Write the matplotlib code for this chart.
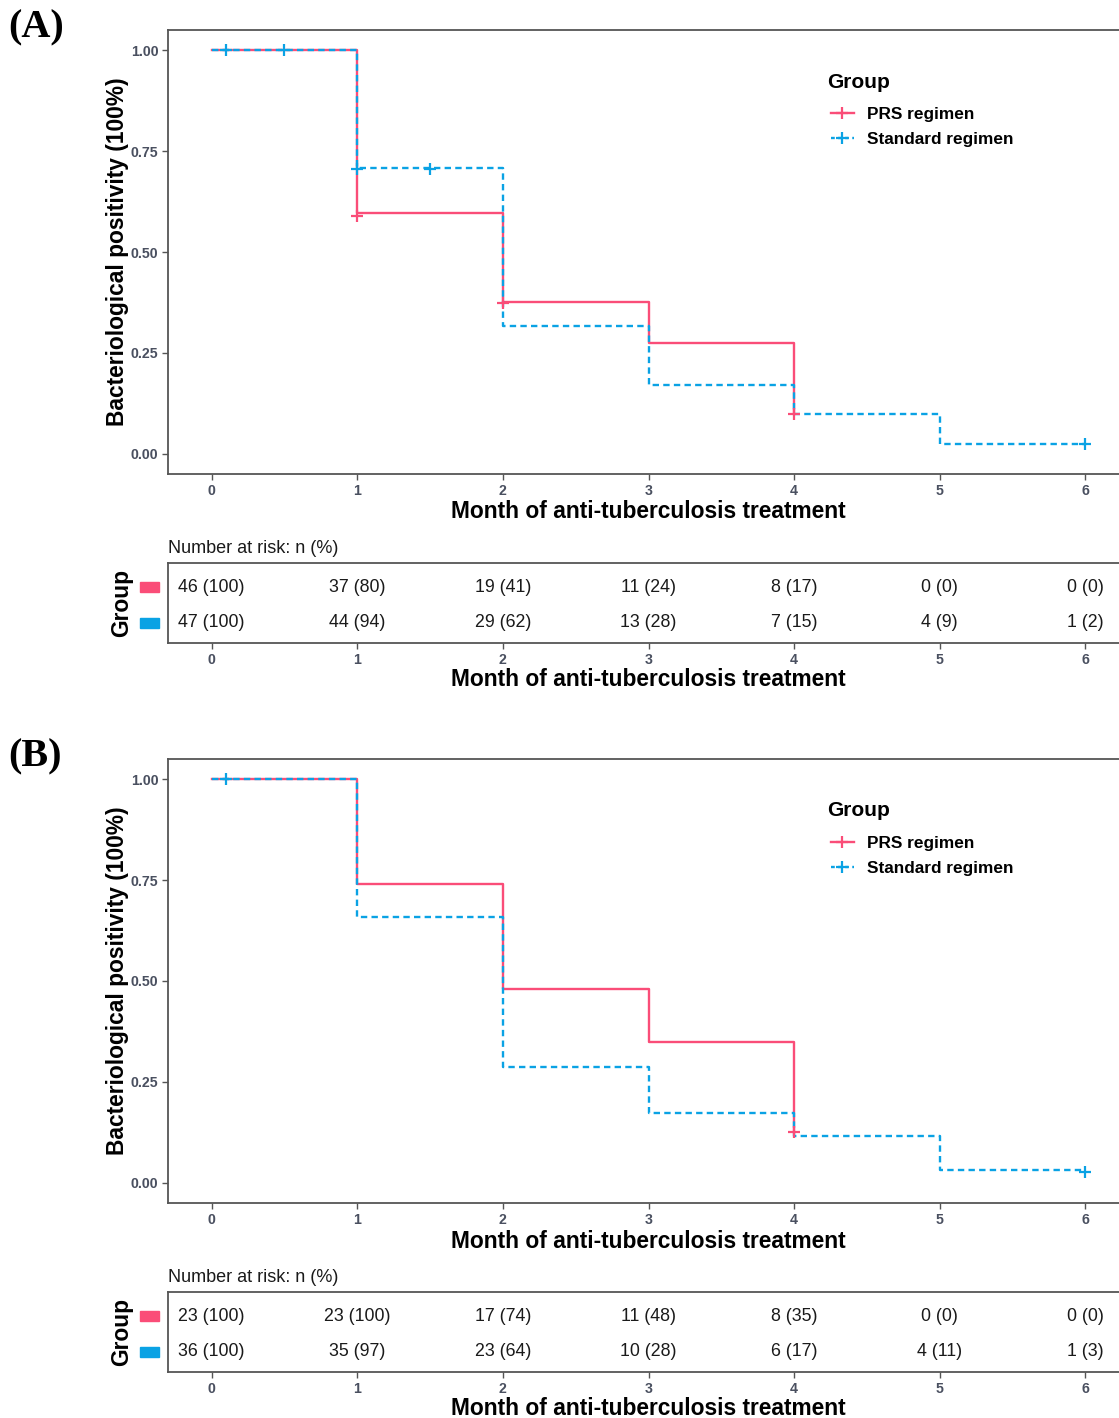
import matplotlib
matplotlib.use("Agg")
import matplotlib.pyplot as plt
from matplotlib.lines import Line2D
from matplotlib.patches import Rectangle
import matplotlib.transforms as mtransforms

# ---- data ----
months = [0, 1, 2, 3, 4, 5, 6]
groups = ["PRS regimen", "Standard regimen"]

# panel A
a_prs_t = [0, 1, 2, 3, 4]
a_prs_s = [1.0, 0.597, 0.377, 0.274, 0.099]
a_std_t = [0, 1, 2, 3, 4, 5, 6]
a_std_s = [1.0, 0.707, 0.317, 0.171, 0.099, 0.025, 0.025]
a_prs_cens_t = [1, 2, 4]
a_prs_cens_s = [0.59, 0.374, 0.099]
a_std_cens_t = [0.1, 0.5, 1, 1.5, 6]
a_std_cens_s = [1.0, 1.0, 0.705, 0.705, 0.025]
a_risk_prs = ["46 (100)", "37 (80)", "19 (41)", "11 (24)", "8 (17)", "0 (0)", "0 (0)"]
a_risk_std = ["47 (100)", "44 (94)", "29 (62)", "13 (28)", "7 (15)", "4 (9)", "1 (2)"]

# panel B
b_prs_t = [0, 1, 2, 3, 4]
b_prs_s = [1.0, 0.741, 0.481, 0.349, 0.126]
b_std_t = [0, 1, 2, 3, 4, 5, 6]
b_std_s = [1.0, 0.659, 0.288, 0.172, 0.116, 0.031, 0.031]
b_prs_cens_t = [4]
b_prs_cens_s = [0.126]
b_std_cens_t = [0.1, 6]
b_std_cens_s = [1.0, 0.028]
b_risk_prs = ["23 (100)", "23 (100)", "17 (74)", "11 (48)", "8 (35)", "0 (0)", "0 (0)"]
b_risk_std = ["36 (100)", "35 (97)", "23 (64)", "10 (28)", "6 (17)", "4 (11)", "1 (3)"]

RED = "#FA4D78"
BLUE = "#0AA2E4"
TICK_C = "#4A5060"
SPINE_C = "#555555"
W, H = 1119, 1418

SANS = ["Liberation Sans", "DejaVu Sans"]
NARROW = ["Liberation Sans Narrow", "Liberation Sans", "DejaVu Sans"]
plt.rcParams["font.family"] = SANS

fig = plt.figure(figsize=(W / 100, H / 100), dpi=100, facecolor="white")


def px_axes(left, top, right, bottom):
    return fig.add_axes([left / W, 1 - bottom / H, (right - left) / W, (bottom - top) / H])


def style_axes(ax):
    for s in ax.spines.values():
        s.set_color(SPINE_C)
        s.set_linewidth(1.3)
    ax.tick_params(direction="out", length=4, width=1.0, color=SPINE_C,
                   labelcolor=TICK_C, pad=3)
    for lab in ax.get_xticklabels() + ax.get_yticklabels():
        lab.set_family(NARROW)
        lab.set_fontweight("bold")
        lab.set_fontsize(10.2)


def draw_panel(y0, letter, prs_t, prs_s, std_t, std_s,
               prs_ct, prs_cs, std_ct, std_cs, risk_prs, risk_std):
    ax = px_axes(168, y0 + 30, 1129, y0 + 474)
    ax.step(prs_t, prs_s, where="post", color=RED, lw=1.7)
    ax.step(std_t, std_s, where="post", color=BLUE, lw=1.7, dashes=(2.7, 1.8))
    ax.plot(prs_ct, prs_cs, ls="none", marker="+", ms=9, mew=1.6, color=RED)
    ax.plot(std_ct, std_cs, ls="none", marker="+", ms=9, mew=1.6, color=BLUE)
    ax.set_xlim(-0.3, 6.3)
    ax.set_ylim(-0.05, 1.05)
    ax.set_xticks(months)
    ax.set_yticks([0, 0.25, 0.5, 0.75, 1.0])
    ax.set_yticklabels(["0.00", "0.25", "0.50", "0.75", "1.00"])
    style_axes(ax)
    ax.set_xlabel("Month of anti-tuberculosis treatment", fontsize=16.4,
                  fontweight="bold", labelpad=2)
    ax.set_ylabel("Bacteriological positivity (100%)", fontsize=16.4,
                  fontweight="bold", labelpad=1)

    handles = [
        Line2D([], [], color=RED, lw=1.7, marker="+", ms=9, mew=1.6),
        Line2D([], [], color=BLUE, lw=1.7, dashes=(1.6, 1.4), marker="+", ms=9, mew=1.6),
    ]
    fig.text(827 / W, 1 - (y0 + 82) / H, "Group", fontsize=15, fontweight="bold",
             ha="left", va="center")
    ax.legend(handles, groups, loc="upper left",
              bbox_to_anchor=(822 / W, 1 - (y0 + 98) / H),
              bbox_transform=fig.transFigure, frameon=False,
              borderpad=0, handlelength=1.35, handletextpad=0.75,
              labelspacing=0.58,
              prop={"weight": "bold", "size": 12.4})

    fig.text(8 / W, 1 - (y0 + 28) / H, letter, family=["Liberation Serif", "DejaVu Serif"],
             fontweight="bold", fontsize=29, va="center", ha="left")

    # risk table
    rt = px_axes(168, y0 + 563, 1129, y0 + 643)
    rt.set_xlim(-0.3, 6.3)
    rt.set_ylim(0.44, 2.67)
    for m, txt in zip(months, risk_prs):
        rt.text(m, 2, txt, ha="center", va="center", fontsize=12.8, color="#1a1a1a")
    for m, txt in zip(months, risk_std):
        rt.text(m, 1, txt, ha="center", va="center", fontsize=12.8, color="#1a1a1a")
    rt.set_xticks(months)
    rt.set_yticks([2, 1])
    rt.set_yticklabels(["", ""])
    style_axes(rt)
    rt.tick_params(axis="y", length=0)
    trans = mtransforms.blended_transform_factory(rt.transAxes, rt.transData)
    for yv, col in [(2, RED), (1, BLUE)]:
        rt.add_patch(Rectangle((-0.029, yv - 0.14), 0.02, 0.28, transform=trans,
                               color=col, clip_on=False))
    rt.set_xlabel("Month of anti-tuberculosis treatment", fontsize=16.4,
                  fontweight="bold", labelpad=1)
    rt.set_ylabel("Group", fontsize=16.4, fontweight="bold", labelpad=22)
    rt.set_title("Number at risk: n (%)", loc="left", fontsize=13, pad=7,
                 color="#1a1a1a")


draw_panel(0, "(A)", a_prs_t, a_prs_s, a_std_t, a_std_s,
           a_prs_cens_t, a_prs_cens_s, a_std_cens_t, a_std_cens_s,
           a_risk_prs, a_risk_std)
draw_panel(729, "(B)", b_prs_t, b_prs_s, b_std_t, b_std_s,
           b_prs_cens_t, b_prs_cens_s, b_std_cens_t, b_std_cens_s,
           b_risk_prs, b_risk_std)

fig.savefig("out.png", dpi=100, facecolor="white")
